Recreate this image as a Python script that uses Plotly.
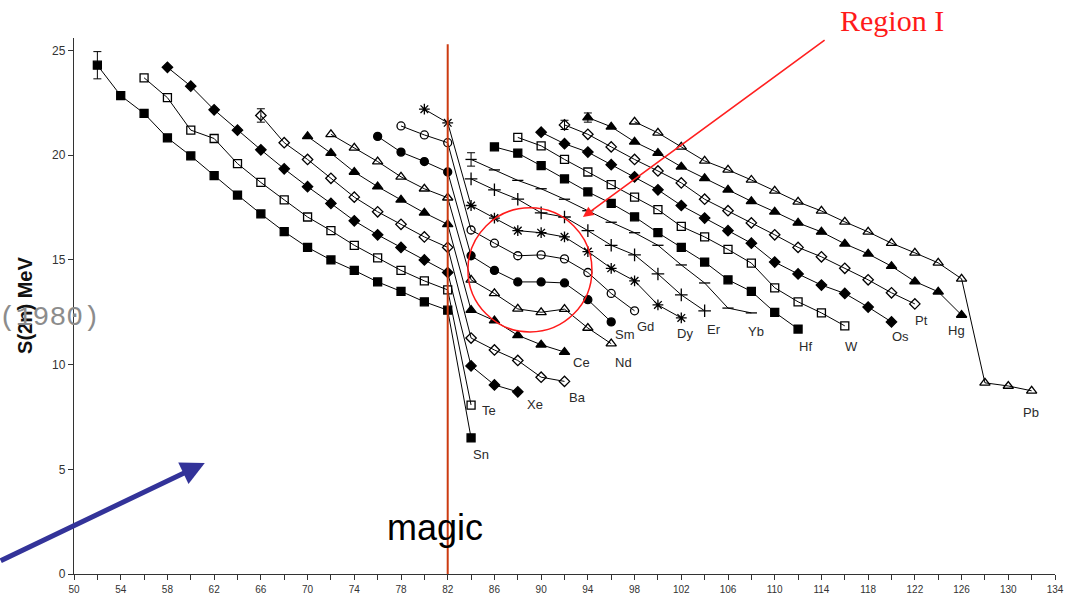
import plotly.graph_objects as go

# ---------------- data: S(2n) in MeV vs neutron number N ----------------
Sn_N = [52, 54, 56, 58, 60, 62, 64, 66, 68, 70, 72, 74, 76, 78, 80, 82, 84]
Sn_S = [24.3, 22.85, 22.0, 20.83, 19.97, 19.03, 18.1, 17.2, 16.35, 15.6, 15.0, 14.5, 13.95, 13.5, 13.0, 12.6, 6.5]
Te_N = [56, 58, 60, 62, 64, 66, 68, 70, 72, 74, 76, 78, 80, 82, 84]
Te_S = [23.7, 22.75, 21.2, 20.8, 19.6, 18.7, 17.87, 17.05, 16.4, 15.7, 15.1, 14.5, 14.0, 13.57, 8.07]
Xe_N = [58, 60, 62, 64, 66, 68, 70, 72, 74, 76, 78, 80, 82, 84, 86, 88]
Xe_S = [24.2, 23.3, 22.17, 21.2, 20.26, 19.35, 18.5, 17.7, 16.87, 16.2, 15.6, 15.0, 14.4, 9.94, 9.03, 8.7]
Ba_N = [66, 68, 70, 72, 74, 76, 78, 80, 82, 84, 86, 88, 90, 92]
Ba_S = [21.9, 20.6, 19.8, 18.9, 18.0, 17.3, 16.7, 16.1, 15.6, 11.27, 10.7, 10.2, 9.4, 9.2]
Ce_N = [70, 72, 74, 76, 78, 80, 82, 84, 86, 88, 90, 92]
Ce_S = [20.9, 20.1, 19.2, 18.5, 17.87, 17.25, 16.7, 12.6, 12.1, 11.4, 10.95, 10.6]
Nd_N = [72, 74, 76, 78, 80, 82, 84, 86, 88, 90, 92, 94, 96]
Nd_S = [21.0, 20.35, 19.7, 18.97, 18.4, 17.97, 14.05, 13.4, 12.66, 12.5, 12.65, 11.75, 11.0]
Sm_N = [76, 78, 80, 82, 84, 86, 88, 90, 92, 94, 96]
Sm_S = [20.9, 20.15, 19.7, 19.2, 15.2, 14.5, 13.95, 13.95, 13.9, 13.1, 12.04]
Gd_N = [78, 80, 82, 84, 86, 88, 90, 92, 94, 96, 98]
Gd_S = [21.4, 20.97, 20.6, 16.43, 15.8, 15.2, 15.24, 15.05, 14.4, 13.4, 12.57]
Dy_N = [80, 82, 84, 86, 88, 90, 92, 94, 96, 98, 100, 102]
Dy_S = [22.2, 21.55, 17.6, 17.0, 16.4, 16.3, 16.1, 15.4, 14.6, 14.0, 12.85, 12.23]
Er_N = [84, 86, 88, 90, 92, 94, 96, 98, 100, 102, 104]
Er_S = [18.87, 18.35, 17.9, 17.25, 17.05, 16.4, 15.7, 15.24, 14.33, 13.33, 12.57]
Yb_N = [84, 86, 88, 90, 92, 94, 96, 98, 100, 102, 104, 106, 108]
Yb_S = [19.8, 19.3, 18.8, 18.4, 17.9, 17.35, 16.8, 16.3, 15.7, 14.76, 13.9, 12.7, 12.47]
Hf_N = [86, 88, 90, 92, 94, 96, 98, 100, 102, 104, 106, 108, 110, 112]
Hf_S = [20.4, 20.1, 19.5, 18.87, 18.25, 17.7, 17.06, 16.3, 15.6, 14.9, 14.05, 13.5, 12.5, 11.7]
W_N = [88, 90, 92, 94, 96, 98, 100, 102, 104, 106, 108, 110, 112, 114, 116]
W_S = [20.85, 20.45, 19.8, 19.2, 18.6, 18.0, 17.4, 16.6, 16.1, 15.5, 14.85, 13.67, 13.0, 12.47, 11.85]
Os_N = [90, 92, 94, 96, 98, 100, 102, 104, 106, 108, 110, 112, 114, 116, 118, 120]
Os_S = [21.1, 20.55, 20.15, 19.55, 18.97, 18.35, 17.6, 17.0, 16.4, 15.8, 14.9, 14.33, 13.8, 13.4, 12.75, 12.04]
Pt_N = [92, 94, 96, 98, 100, 102, 104, 106, 108, 110, 112, 114, 116, 118, 120, 122]
Pt_S = [21.45, 21.0, 20.4, 19.8, 19.25, 18.68, 17.9, 17.35, 16.77, 16.2, 15.6, 15.15, 14.6, 14.05, 13.43, 12.9]
Hg_N = [94, 96, 98, 100, 102, 104, 106, 108, 110, 112, 114, 116, 118, 120, 122, 124, 126]
Hg_S = [21.8, 21.36, 20.64, 20.1, 19.45, 18.9, 18.35, 17.8, 17.3, 16.77, 16.34, 15.77, 15.29, 14.7, 13.97, 13.48, 12.37]
Pb_N = [98, 100, 102, 104, 106, 108, 110, 112, 114, 116, 118, 120, 122, 124, 126, 128, 130, 132]
Pb_S = [21.6, 21.07, 20.4, 19.73, 19.3, 18.82, 18.3, 17.77, 17.34, 16.82, 16.34, 15.8, 15.34, 14.86, 14.1, 9.13, 8.98, 8.75]

elements = ["Sn", "Te", "Xe", "Ba", "Ce", "Nd", "Sm", "Gd", "Dy", "Er", "Yb",
            "Hf", "W", "Os", "Pt", "Hg", "Pb"]
series = {
    "Sn": (Sn_N, Sn_S), "Te": (Te_N, Te_S), "Xe": (Xe_N, Xe_S), "Ba": (Ba_N, Ba_S),
    "Ce": (Ce_N, Ce_S), "Nd": (Nd_N, Nd_S), "Sm": (Sm_N, Sm_S), "Gd": (Gd_N, Gd_S),
    "Dy": (Dy_N, Dy_S), "Er": (Er_N, Er_S), "Yb": (Yb_N, Yb_S), "Hf": (Hf_N, Hf_S),
    "W": (W_N, W_S), "Os": (Os_N, Os_S), "Pt": (Pt_N, Pt_S), "Hg": (Hg_N, Hg_S),
    "Pb": (Pb_N, Pb_S),
}

# error bars (element, N, +/- MeV)
err_el = ["Sn", "Ba", "Yb", "Pt", "Hg"]
err_N = [52, 66, 84, 92, 94]
err_val = [0.65, 0.32, 0.32, 0.22, 0.22]

x_ticks = list(range(50, 135, 4))
y_ticks = [0, 5, 10, 15, 20, 25]

# ---------------- styles ----------------
symbols = {
    "Sn": "square", "Te": "square-open", "Xe": "diamond", "Ba": "diamond-open",
    "Ce": "triangle-up", "Nd": "triangle-up-open", "Sm": "circle", "Gd": "circle-open",
    "Dy": "asterisk-open", "Er": "cross-thin-open", "Yb": "line-ew-open",
    "Hf": "square", "W": "square-open", "Os": "diamond", "Pt": "diamond-open",
    "Hg": "triangle-up", "Pb": "triangle-up-open",
}
label_offset = {  # screen pixels (dx right, dy down) from last point
    "Sn": (10, 17), "Te": (18, 5), "Xe": (17, 13), "Ba": (13, 16), "Ce": (17, 10),
    "Nd": (12, 19), "Sm": (14, 13), "Gd": (11, 16), "Dy": (4, 16), "Er": (9, 19),
    "Yb": (5, 19), "Hf": (7, 17), "W": (7, 21), "Os": (9, 15), "Pt": (7, 17),
    "Hg": (-5, 15), "Pb": (-1, 22),
}

fig = go.Figure()

for el in elements:
    N, S = series[el]
    sym = symbols[el]
    size = 8
    if sym.startswith("triangle"):
        size = 9
    if sym in ("asterisk-open", "cross-thin-open"):
        size = 9
    fig.add_trace(go.Scatter(
        x=N, y=S, mode="lines+markers", name=el, showlegend=False,
        line=dict(color="black", width=1),
        marker=dict(symbol=sym, size=size, color="black",
                    line=dict(color="black", width=1.3)),
    ))

# error bar traces
for el, n, e in zip(err_el, err_N, err_val):
    N, S = series[el]
    s = S[N.index(n)]
    fig.add_trace(go.Scatter(
        x=[n], y=[s], mode="markers", showlegend=False,
        marker=dict(size=1, color="rgba(0,0,0,0)"),
        error_y=dict(type="data", array=[e], color="black", thickness=1, width=4),
    ))

annotations = []
for el in elements:
    N, S = series[el]
    dx, dy = label_offset[el]
    annotations.append(dict(
        x=N[-1], y=S[-1], xref="x", yref="y", text=el, showarrow=False,
        xshift=dx, yshift=-dy, xanchor="center", yanchor="middle",
        font=dict(family="Liberation Sans, Arial", size=13, color="#2a2a2a"),
    ))

# magic text
annotations.append(dict(x=80.9, y=2.2, xref="x", yref="y", text="magic", showarrow=False,
                        xanchor="center", yanchor="middle",
                        font=dict(family="Liberation Sans, Arial", size=36, color="black")))
# Region I (above the plotting area -> paper coordinates)
annotations.append(dict(x=0.834, y=1.033, xref="paper", yref="paper", text="Region I",
                        showarrow=False, xanchor="center", yanchor="middle",
                        font=dict(family="Liberation Serif, Times New Roman", size=30, color="#ff1a1a")))
# red arrow
annotations.append(dict(x=93.58, y=17.05, ax=114.4, ay=25.55, xref="x", yref="y",
                        axref="x", ayref="y", text="", showarrow=True,
                        arrowhead=2, arrowsize=1.3, arrowwidth=1.6, arrowcolor="#ff2020"))
# blue arrow
annotations.append(dict(x=61.2, y=5.3, ax=43.6, ay=0.6, xref="x", yref="y",
                        axref="x", ayref="y", text="", showarrow=True,
                        arrowhead=2, arrowsize=0.95, arrowwidth=5, arrowcolor="#333399"))
# y-axis title
annotations.append(dict(x=-0.05, y=0.502, xref="paper", yref="paper", text="<b>S(2n) MeV</b>",
                        showarrow=False, textangle=-90, xanchor="center", yanchor="middle",
                        font=dict(family="Liberation Sans, Arial", size=20, color="#111111")))
# leftover (1980)
annotations.append(dict(x=-0.079, y=0.478, xref="paper", yref="paper", text="(1980)",
                        showarrow=False, xanchor="left", yanchor="middle",
                        font=dict(family="Liberation Mono, Courier New", size=28, color="#8c8c8c")))

shapes = [
    dict(type="line", x0=82, x1=82, y0=0, y1=25.3, xref="x", yref="y",
         line=dict(color="#cc3a10", width=2)),
    dict(type="circle", x0=83.73, x1=94.35, y0=11.56, y1=17.49, xref="x", yref="y",
         line=dict(color="#ff1a1a", width=1.5)),
]

fig.update_layout(
    width=1068, height=597,
    margin=dict(l=74, r=13, t=38, b=23, autoexpand=False),
    paper_bgcolor="white", plot_bgcolor="white",
    annotations=annotations, shapes=shapes,
    font=dict(family="Liberation Sans, Arial", size=12, color="#333333"),
)
fig.update_xaxes(
    range=[50, 134], tickvals=x_ticks, ticks="outside", ticklen=5, tickcolor="#333",
    showline=True, linecolor="#333", linewidth=1.3, showgrid=False, zeroline=False,
    minor=dict(dtick=2, ticks="outside", ticklen=5, tickcolor="#333"),
    ticklabelstandoff=1, tickfont=dict(size=10, color="#333"), automargin=False,
)
fig.update_yaxes(
    range=[0, 25.6], tickvals=y_ticks, ticks="outside", ticklen=5, tickcolor="#333",
    showline=True, linecolor="#333", linewidth=1.3, showgrid=False, zeroline=False,
    tickfont=dict(size=12, color="#333"), automargin=False,
)

fig.write_html("out.html")
